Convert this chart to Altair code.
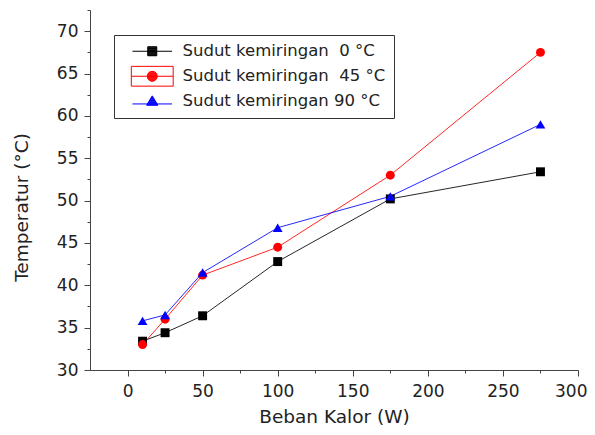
import altair as alt
import pandas as pd
import math

beban = [10, 25, 50, 100, 175, 275]
t0 = [33.4, 34.4, 36.4, 42.8, 50.2, 53.4]
t45 = [33.0, 36.0, 41.2, 44.5, 53.0, 67.5]
t90 = [35.8, 36.5, 41.5, 46.8, 50.5, 59.0]
series_names = ["Sudut kemiringan\u00a0 0 °C", "Sudut kemiringan\u00a0 45 °C", "Sudut kemiringan 90 °C"]
series_colors = ["#000000", "#ff0000", "#0000ff"]
series_shapes = ["square", "circle", "triangle-up"]
series_sizes = [80, 80, 95]
x_major = [0, 50, 100, 150, 200, 250, 300]
x_minor = [25, 75, 125, 175, 225, 275]
y_major = [30, 35, 40, 45, 50, 55, 60, 65, 70]
y_minor = [32.5, 37.5, 42.5, 47.5, 52.5, 57.5, 62.5, 67.5, 72.5]

rows = []
for name, vals in zip(series_names, [t0, t45, t90]):
    for b, v in zip(beban, vals):
        rows.append({"beban": b, "temp": v, "series": name})
df = pd.DataFrame(rows)

FONT = "DejaVu Sans"
xscale = alt.Scale(domain=[-25, 300], nice=False, zero=False)
yscale = alt.Scale(domain=[30, 72.5], nice=False, zero=False)

major_x = alt.Axis(values=x_major, title="Beban Kalor (W)", tickSize=6, labelPadding=7,
                   titlePadding=8, grid=False, orient="bottom", labelFlush=False,
                   labelAlign={"condition": {"test": "datum.value == 300", "value": "right"},
                               "value": "center"},
                   labelOffset={"condition": {"test": "datum.value == 300", "value": 9},
                                "value": 0})
major_y = alt.Axis(values=y_major, title="Temperatur (°C)", tickSize=6, labelPadding=6,
                   grid=False, orient="left", labelFlush=False, titleX=-69, titleY=197,
                   titleAngle=270, titleAlign="center", titleBaseline="middle")
minor_x = alt.Axis(values=x_minor, labels=False, domain=False, tickSize=3, title=None,
                   grid=False, orient="bottom")
minor_y = alt.Axis(values=y_minor, labels=False, domain=False, tickSize=3, title=None,
                   grid=False, orient="left")

base = alt.Chart(df)


def fmt(v):
    return f"{v:.3f}".rstrip("0").rstrip(".")


def hatched(kind):
    # legend glyph: horizontal connector line + marker drawn with dense strokes
    parts = []
    ys = [-1.2 + 0.15 * i for i in range(16)]
    if kind == "square":
        parts.append("M-4.4,0H4.4")
        parts.append("M-1,-1H1V1H-1Z")
        for y in ys:
            if -1 <= y <= 1:
                parts.append(f"M-1,{fmt(y)}H1")
    elif kind == "circle":
        parts.append("M-4.65,-2.2H4.65V2.2H-4.65ZM-4.65,0H4.65")
        r = 1.1
        parts.append("M1.1,0A1.1,1.1,0,1,1,-1.1,0A1.1,1.1,0,1,1,1.1,0Z")
        for y in ys:
            if abs(y) < r:
                h = math.sqrt(r * r - y * y)
                parts.append(f"M{fmt(-h)},{fmt(y)}H{fmt(h)}")
    else:
        parts.append("M-4.4,0.6H4.4")
        parts.append("M0,-1.2L1.25,0.9H-1.25Z")
        for y in ys:
            if -1.2 <= y <= 0.9:
                h = 1.25 * (y + 1.2) / 2.1
                parts.append(f"M{fmt(-h)},{fmt(y)}H{fmt(h)}")
    return "".join(parts)


layers = []
for name, col in zip(series_names, series_colors):
    layers.append(
        base.transform_filter(alt.datum.series == name).mark_line(
            strokeWidth=1, opacity=0.85, color=col
        ).encode(
            x=alt.X("beban:Q", scale=xscale, axis=major_x if name == series_names[0] else None),
            y=alt.Y("temp:Q", scale=yscale, axis=major_y if name == series_names[0] else None),
        )
    )
for name, col, shp, sz in zip(series_names, series_colors, series_shapes, series_sizes):
    layers.append(
        base.transform_filter(alt.datum.series == name).mark_point(
            filled=True, opacity=1, size=sz, shape=shp, color=col
        ).encode(
            x=alt.X("beban:Q", scale=xscale, axis=None),
            y=alt.Y("temp:Q", scale=yscale, axis=None),
        )
    )

leg = alt.Legend(title=None, orient="none", legendX=24, legendY=25, padding=8,
                 strokeColor="#333", fillColor="white", symbolSize=81,
                 symbolStrokeWidth=1, symbolOffset=22, labelOffset=22,
                 labelFont=FONT, labelFontSize=16.5, labelColor="#222",
                 rowPadding=4, labelLimit=400, symbolOpacity=1)
legend_layer = base.transform_filter("false").mark_point(
    filled=False, strokeWidth=1, opacity=1
).encode(
    x=alt.X("beban:Q", scale=xscale, axis=None),
    y=alt.Y("temp:Q", scale=yscale, axis=None),
    color=alt.Color("series:N", scale=alt.Scale(domain=series_names, range=series_colors), legend=leg),
    shape=alt.Shape("series:N", scale=alt.Scale(domain=series_names,
                    range=[hatched(s) for s in series_shapes]), legend=leg),
)
layers.append(legend_layer)

minor = base.mark_point(opacity=0, size=1).encode(
    x=alt.X("beban:Q", scale=xscale, axis=minor_x),
    y=alt.Y("temp:Q", scale=yscale, axis=minor_y),
)
layers.append(minor)

chart = alt.layer(*layers).resolve_axis(
    x="independent", y="independent"
).properties(
    width=488, height=360,
    autosize=alt.AutoSizeParams(type="none"),
    padding={"left": 82, "top": 2, "right": 9, "bottom": 57},
).configure_axis(
    labelFont=FONT, labelFontSize=17, labelColor="#222",
    titleFont=FONT, titleFontSize=18.5, titleFontWeight="normal", titleColor="#222",
    domainColor="#444", tickColor="#444", domainWidth=1, tickWidth=1,
).configure_view(stroke=None)

chart.save("out.html", embed_options={"renderer": "svg", "actions": False})
